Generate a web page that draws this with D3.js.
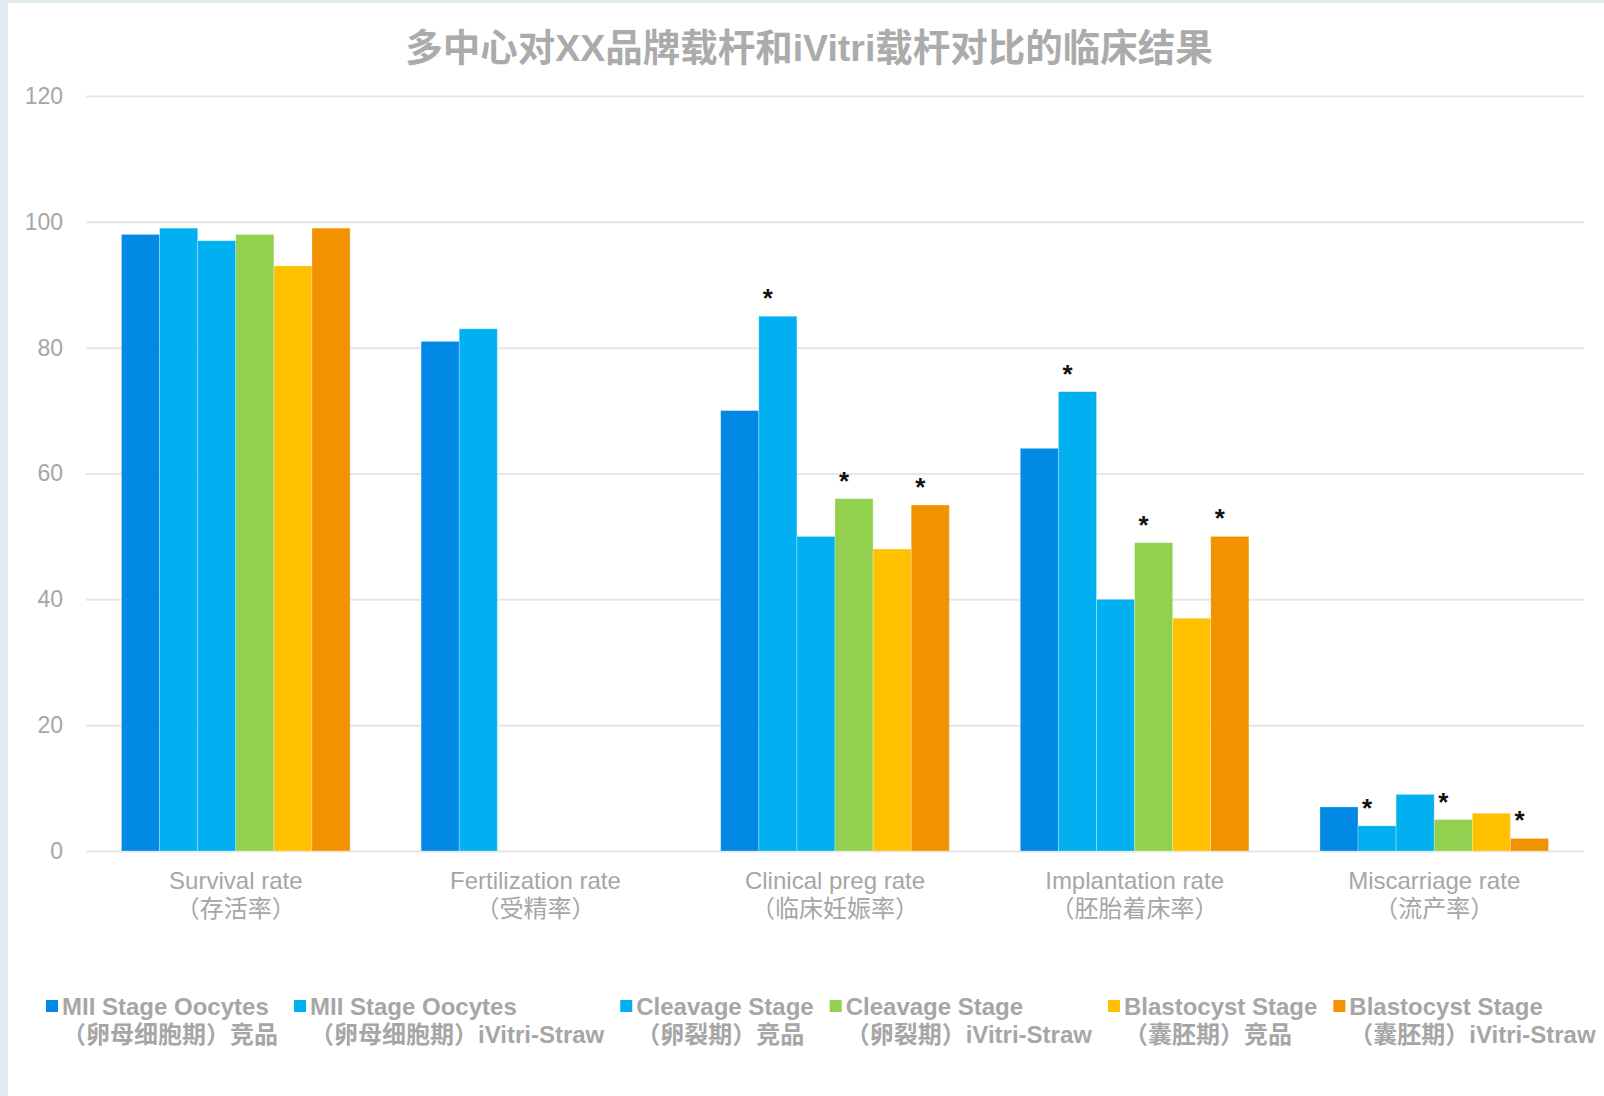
<!DOCTYPE html>
<html>
<head>
<meta charset="utf-8">
<script src="https://cdn.jsdelivr.net/npm/d3@7"></script>
<style>
  body { margin: 0; background: #fff; }
  text { font-family: "Liberation Sans", Arial, "Noto Sans CJK SC", sans-serif; }
</style>
</head>
<body>
<div id="vis"></div>
<script>
const W = 1604, H = 1096;
const margin = { top: 96, right: 20, bottom: 245, left: 86 };

const title = "多中心对XX品牌载杆和iVitri载杆对比的临床结果";
const categories = ["Survival rate", "Fertilization rate", "Clinical preg rate", "Implantation rate", "Miscarriage rate"];
const categoriesCn = ["（存活率）", "（受精率）", "（临床妊娠率）", "（胚胎着床率）", "（流产率）"];

const seriesNames = ["MII Stage Oocytes", "MII Stage Oocytes", "Cleavage Stage", "Cleavage Stage", "Blastocyst Stage", "Blastocyst Stage"];
const seriesNamesCn = ["（卵母细胞期）竞品", "（卵母细胞期）iVitri-Straw", "（卵裂期）竞品", "（卵裂期）iVitri-Straw", "（囊胚期）竞品", "（囊胚期）iVitri-Straw"];
const colors = ["#0288e5", "#00b0f0", "#00b0f0", "#92d050", "#ffc000", "#f39200"];

// one array per series, in category order (null = no bar)
const miiCompetitor = [98, 81, 70, 64, 7];
const miiIvitri = [99, 83, 85, 73, 4];
const cleavageCompetitor = [97, null, 50, 40, 9];
const cleavageIvitri = [98, null, 56, 49, 5];
const blastCompetitor = [93, null, 48, 37, 6];
const blastIvitri = [99, null, 55, 50, 2];
const seriesValues = [miiCompetitor, miiIvitri, cleavageCompetitor, cleavageIvitri, blastCompetitor, blastIvitri];

// significance marks: [category index, series index]
const stars = [[2, 1], [2, 3], [2, 5], [3, 1], [3, 3], [3, 5], [4, 1], [4, 3], [4, 5]];

const yTicks = [0, 20, 40, 60, 80, 100, 120];

const grey = "#a6a6a6";

const svg = d3.select("#vis").append("svg")
    .attr("width", W)
    .attr("height", H);

// background frame
svg.append("rect").attr("width", W).attr("height", H).attr("fill", "#e1ecf1");
svg.append("rect").attr("x", 8).attr("y", 3).attr("width", W - 8).attr("height", H - 3).attr("fill", "#fff");

const x0 = d3.scaleBand()
    .domain(categories)
    .range([margin.left, W - margin.right])
    .paddingInner(0.237)
    .paddingOuter(0.1185);

const x1 = d3.scaleBand()
    .domain(d3.range(seriesValues.length))
    .range([0, x0.bandwidth()]);

const y = d3.scaleLinear()
    .domain([0, 120])
    .range([H - margin.bottom, margin.top]);

// title
svg.append("text")
    .attr("x", 809)
    .attr("y", 47)
    .attr("dy", "0.36em")
    .attr("text-anchor", "middle")
    .style("font-size", "37.5px")
    .style("font-weight", "bold")
    .style("fill", "#ababab")
    .text(title);

// grid + y axis
const yAxis = d3.axisLeft(y)
    .tickValues(yTicks)
    .tickSize(-(W - margin.right - margin.left))
    .tickPadding(23);

const yg = svg.append("g")
    .attr("transform", `translate(${margin.left},0)`)
    .call(yAxis);
yg.select(".domain").remove();
yg.selectAll(".tick line").attr("stroke", "#e6e6e6").attr("stroke-width", 2);
yg.selectAll(".tick text")
    .style("font-size", "23px")
    .style("fill", grey)
    .style("font-family", "'Liberation Sans', Arial, sans-serif");

// bars
const rows = [];
seriesValues.forEach((vals, s) => {
    vals.forEach((v, c) => {
        if (v !== null) rows.push({ s: s, c: c, v: v });
    });
});

svg.append("g").selectAll("rect")
    .data(rows)
    .enter()
    .append("rect")
    .attr("x", d => x0(categories[d.c]) + x1(d.s))
    .attr("y", d => y(d.v))
    .attr("width", x1.bandwidth())
    .attr("height", d => y(0) - y(d.v))
    .attr("fill", d => colors[d.s])
    .attr("stroke", "rgba(255,255,255,0.35)")
    .attr("stroke-width", 0.8);

// asterisks
svg.append("g").selectAll("text")
    .data(stars)
    .enter()
    .append("text")
    .attr("x", d => x0(categories[d[0]]) + x1(d[1]) + x1.bandwidth() / 2 - 10)
    .attr("y", d => y(seriesValues[d[1]][d[0]]) - 9)
    .attr("text-anchor", "middle")
    .style("font-size", "26px")
    .style("font-weight", "bold")
    .style("fill", "#111")
    .text("*");

// category labels
const catG = svg.append("g").selectAll("g")
    .data(categories)
    .enter()
    .append("g")
    .attr("transform", d => `translate(${x0(d) + x0.bandwidth() / 2},0)`);

catG.append("text")
    .attr("y", 881)
    .attr("dy", "0.35em")
    .attr("text-anchor", "middle")
    .style("font-size", "24px")
    .style("fill", grey)
    .text(d => d);

catG.append("text")
    .attr("y", 909)
    .attr("dy", "0.35em")
    .attr("text-anchor", "middle")
    .style("font-size", "24px")
    .style("fill", grey)
    .text((d, i) => categoriesCn[i]);

// legend
const legend = svg.append("g");
let lx = 46;
seriesNames.forEach((name, i) => {
    const item = legend.append("g").attr("transform", `translate(${lx},0)`);
    item.append("rect")
        .attr("x", 0)
        .attr("y", 1000)
        .attr("width", 12)
        .attr("height", 12)
        .attr("fill", colors[i]);
    const t1 = item.append("text")
        .attr("x", 16)
        .attr("y", 1006)
        .attr("dy", "0.36em")
        .style("font-size", "24px")
        .style("font-weight", "bold")
        .style("fill", grey)
        .text(name);
    const t2 = item.append("text")
        .attr("x", 16)
        .attr("y", 1034)
        .attr("dy", "0.36em")
        .style("font-size", "24px")
        .style("font-weight", "bold")
        .style("fill", grey)
        .text(seriesNamesCn[i]);
    const w = Math.max(t1.node().getComputedTextLength(), t2.node().getComputedTextLength());
    lx += 16 + w + 16;
});
</script>
</body>
</html>
